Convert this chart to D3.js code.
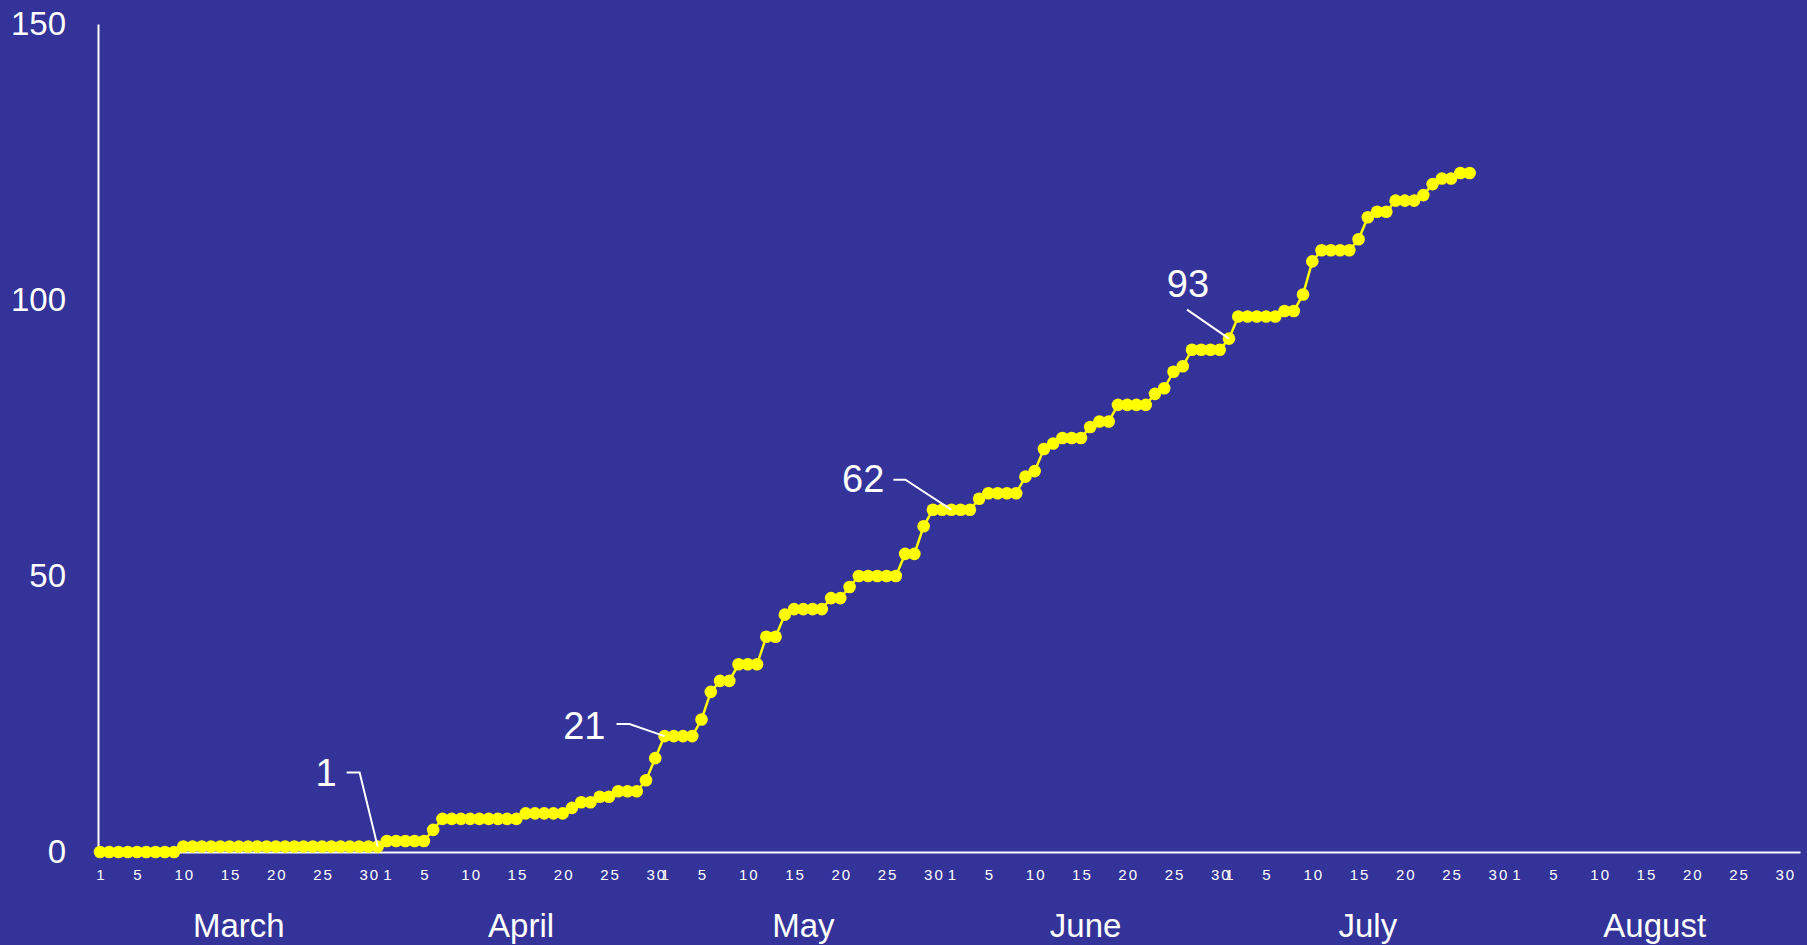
<!DOCTYPE html>
<html>
<head>
<meta charset="utf-8">
<script src="https://cdn.jsdelivr.net/npm/d3@7"></script>
<style>
    html, body { margin: 0; padding: 0; background: #333399; overflow: hidden; }
    text { font-family: "Liberation Sans", Arial, sans-serif; fill: #ffffff; }
</style>
</head>
<body>
<div id="chart"></div>
<script>
(function() {
    "use strict";

    // Months on the axis and how many days each one has.
    var months = ["March", "April", "May", "June", "July", "August"];
    var monthLengths = [31, 30, 31, 30, 31, 31];
    var tickDays = [1, 5, 10, 15, 20, 25, 30];
    var yTicks = [0, 50, 100, 150];

    // Running total, one value per day, starting 1 March.
    var marchValues = [0, 0, 0, 0, 0, 0, 0, 0, 0, 1, 1, 1, 1, 1, 1, 1,
                       1, 1, 1, 1, 1, 1, 1, 1, 1, 1, 1, 1, 1, 1, 1];
    var aprilValues = [2, 2, 2, 2, 2, 4, 6, 6, 6, 6, 6, 6, 6, 6, 6,
                       7, 7, 7, 7, 7, 8, 9, 9, 10, 10, 11, 11, 11, 13, 17];
    var mayValues   = [21, 21, 21, 21, 24, 29, 31, 31, 34, 34, 34, 39, 39, 43, 44, 44,
                       44, 44, 46, 46, 48, 50, 50, 50, 50, 50, 54, 54, 59, 62, 62];
    var juneValues  = [62, 62, 62, 64, 65, 65, 65, 65, 68, 69, 73, 74, 75, 75, 75,
                       77, 78, 78, 81, 81, 81, 81, 83, 84, 87, 88, 91, 91, 91, 91];
    var julyValues  = [93, 97, 97, 97, 97, 97, 98, 98, 101, 107, 109, 109, 109, 109,
                       111, 115, 116, 116, 118, 118, 118, 119, 121, 122, 122, 123, 123];

    // Day indexes (from 1 March) of the points that carry a label.
    var labelled = [30, 61, 92, 122];

    var values = marchValues.concat(aprilValues, mayValues, juneValues, julyValues);

    var w = 1807;
    var h = 945;

    // First day index of every month.
    var monthStarts = [];
    var total = 0;
    monthLengths.forEach(function(n) {
        monthStarts.push(total);
        total += n;
    });

    // Day-of-month ticks for every month.
    var tickIdx = [];
    var tickText = [];
    monthStarts.forEach(function(start, m) {
        tickDays.forEach(function(d) {
            if (d <= monthLengths[m]) {
                tickIdx.push(start + d - 1);
                tickText.push(d + "");
            }
        });
    });

    var xScale = d3.scaleLinear()
        .domain([-0.216, total - 0.3])
        .range([98, 1800]);
    var yScale = d3.scaleLinear()
        .domain([0, 150])
        .range([852, 24]);

    var svg = d3.select("#chart").append("svg")
        .attr("width", w)
        .attr("height", h);

    svg.append("rect")
        .attr("width", w)
        .attr("height", h)
        .attr("fill", "#333399");

    // x axis with day numbers.
    var xAxis = svg.append("g")
        .attr("transform", "translate(0," + yScale(0) + ")")
        .call(d3.axisBottom(xScale)
            .tickValues(tickIdx)
            .tickFormat(function(d, i) { return tickText[i]; })
            .tickSize(0)
            .tickSizeOuter(0));
    xAxis.select(".domain").attr("stroke", "#ffffff").attr("stroke-width", 2);
    xAxis.selectAll("text")
        .attr("y", 28)
        .attr("dy", 0)
        .attr("dx", 1)
        .style("font-size", "15px")
        .style("letter-spacing", "2px")
        .attr("fill", "#ffffff");

    // y axis.
    var yAxis = svg.append("g")
        .attr("transform", "translate(98,0)")
        .call(d3.axisLeft(yScale)
            .tickValues(yTicks)
            .tickSize(0)
            .tickSizeOuter(0)
            .tickPadding(32));
    yAxis.select(".domain").attr("stroke", "#ffffff").attr("stroke-width", 2);
    yAxis.selectAll("text")
        .style("font-size", "33px")
        .attr("fill", "#ffffff");

    // Month names under the day numbers.
    svg.selectAll(".month")
        .data(months)
        .enter()
        .append("text")
            .attr("class", "month")
            .attr("x", function(d, i) {
                return xScale(monthStarts[i] + (monthLengths[i] - 1) / 2);
            })
            .attr("y", 937)
            .attr("text-anchor", "middle")
            .style("font-size", "33px")
            .text(function(d) { return d; });

    // The yellow line and its dots.
    var line = d3.line()
        .x(function(d, i) { return xScale(i); })
        .y(function(d) { return yScale(d); });

    svg.append("path")
        .datum(values)
        .attr("d", line)
        .attr("fill", "none")
        .attr("stroke", "#ffff00")
        .attr("stroke-width", 2.5);

    svg.selectAll(".dot")
        .data(values)
        .enter()
        .append("circle")
            .attr("class", "dot")
            .attr("cx", function(d, i) { return xScale(i); })
            .attr("cy", function(d) { return yScale(d); })
            .attr("r", 6.3)
            .attr("fill", "#ffff00");

    // Callouts: leader bends and text offsets relative to the point.
    var callouts = [
        { bend: [-18, -74], tail: [-31, -74], text: [-41, -60], anchor: "end" },
        { bend: [-35, -12], tail: [-48, -12], text: [-59, 3], anchor: "end" },
        { bend: [-46, -30], tail: [-58, -30], text: [-67, -18], anchor: "end" },
        { bend: [-42, -29], tail: [-42, -29], text: [-41, -42], anchor: "middle" }
    ];

    labelled.forEach(function(idx, k) {
        var px = xScale(idx);
        var py = yScale(values[idx]);
        var c = callouts[k];
        svg.append("path")
            .attr("d", "M" + px + "," + py +
                "L" + (px + c.bend[0]) + "," + (py + c.bend[1]) +
                "L" + (px + c.tail[0]) + "," + (py + c.tail[1]))
            .attr("fill", "none")
            .attr("stroke", "#ffffff")
            .attr("stroke-width", 2);
        svg.append("text")
            .attr("x", px + c.text[0])
            .attr("y", py + c.text[1])
            .attr("text-anchor", c.anchor)
            .style("font-size", "38px")
            .text(values[idx]);
    });
})();
</script>
</body>
</html>
